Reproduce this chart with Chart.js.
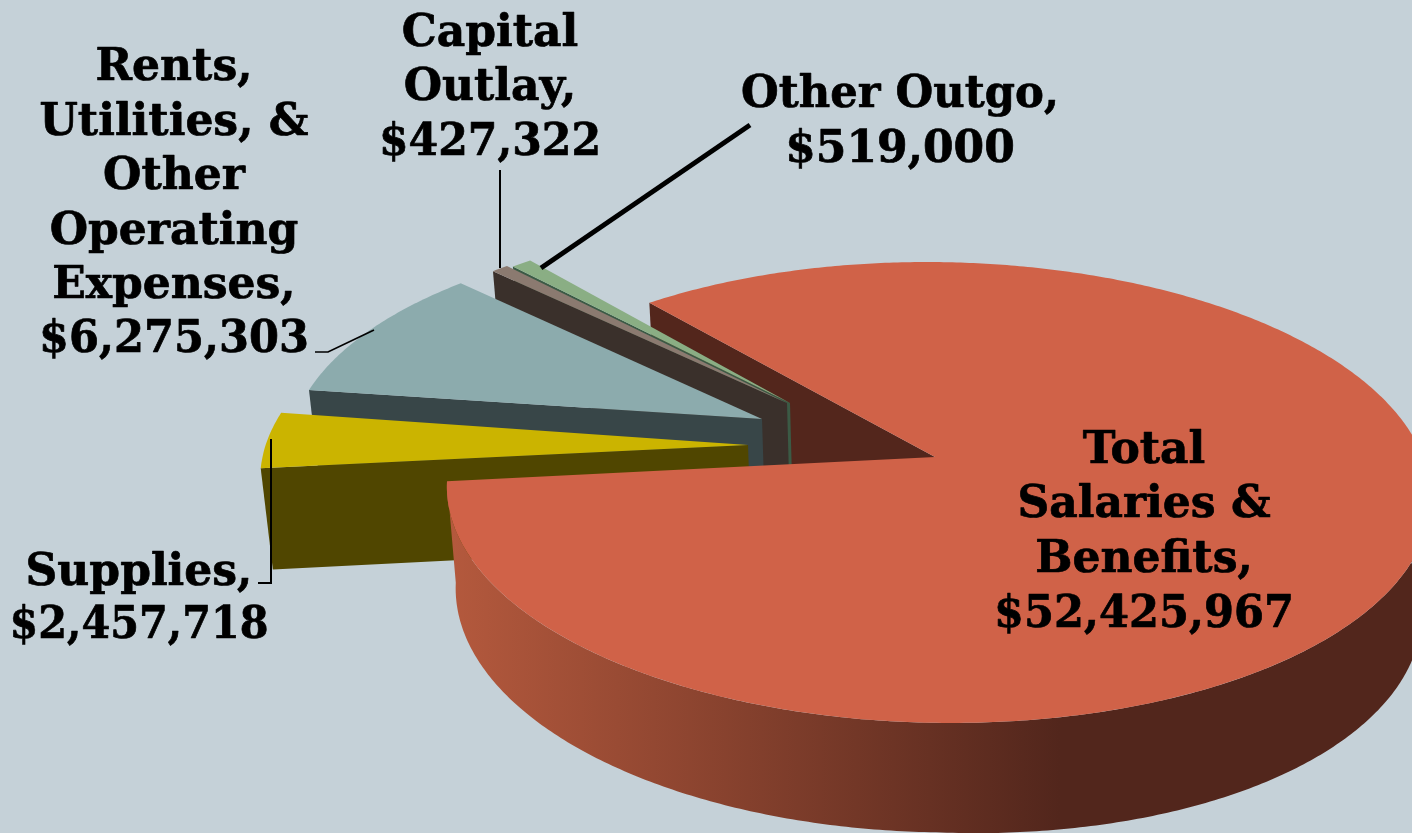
<!DOCTYPE html>
<html>
<head>
<meta charset="utf-8">
<style>html,body{margin:0;padding:0;background:#C5D1D8;overflow:hidden}canvas{display:block}</style>
<script src="https://cdn.jsdelivr.net/npm/chart.js@4/dist/chart.umd.min.js"></script>
</head>
<body>
<canvas id="c" width="1412" height="833"></canvas>
<script>
const categories = ["Total Salaries & Benefits","Supplies","Rents, Utilities, & Other Operating Expenses","Capital Outlay","Other Outgo"];
const values = [52425967,2457718,6275303,427322,519000];
const topColors = ["#D06248","#CBB400","#8CABAD","#8B7A70","#8AAE84"];
const wallColors = ["#53261C","#504600","#384648","#3A302B","#3B5A45"];
const labelLines = [["Total","Salaries &","Benefits,"],["Supplies,"],["Rents,","Utilities, &","Other","Operating","Expenses,"],["Capital","Outlay,"],["Other Outgo,"]];

// layout of the perspective drawing
const apexes = [[935,457],[748,445],[762,419],[787,403],[790,403]];
const rimCenters = [[937,457],[752,444],[761,420],[787,405],[790,404]];
const rimScale = [1,1,.96,.94,.93];
const rimSkew = [12,0,0,0,0];
const K=.154, RX=486, RY=225;
const labelPos = [[1144,[463,517,572,627],300],[139,[585,638],259],[174,[80,135,189,244,298,352],270],[490,[46,100,155],222],[900,[107,162],318]];
const FONT='bold 44px "DejaVu Serif"';

const fmt=v=>"$"+v.toLocaleString("en-US");
const depthOf=p=>101+(p.y-467)*.033+Math.max(0,p.x-935)*.025;
const bot=p=>({x:935+(p.x-935)*.982,y:p.y+depthOf(p)});
const rim=(i,a)=>{const s=Math.sin(a),d=1-K*s;return{x:rimCenters[i][0]+(rimScale[i]*RX*Math.cos(a)+rimSkew[i]*s)/d,y:rimCenters[i][1]+rimScale[i]*RY*s/d}};
const apex=i=>({x:apexes[i][0],y:apexes[i][1]});
function poly(ctx,pts,fill){ctx.beginPath();pts.forEach((p,j)=>j?ctx.lineTo(p.x,p.y):ctx.moveTo(p.x,p.y));ctx.closePath();ctx.fillStyle=fill;ctx.fill()}
function arcPts(i,a0,a1){const n=Math.max(2,Math.ceil((a1-a0)/.01)),o=[];for(let j=0;j<=n;j++)o.push(rim(i,a0+(a1-a0)*j/n));return o}

const pie3d={id:'pie3d',
 beforeDatasetsDraw(chart){
  const ctx=chart.ctx,els=chart.getDatasetMeta(0).data;
  ctx.save();
  const wall=i=>{const p=rim(i,els[i].startAngle),a=apex(i);poly(ctx,[a,p,bot(p),bot(a)],wallColors[i])};
  const top=i=>poly(ctx,[apex(i),...arcPts(i,els[i].startAngle,els[i].endAngle)],topColors[i]);
  wall(0);
  for(const i of [4,3,2,1]){wall(i);top(i)}
  // front wall of the large slice
  const pts=arcPts(0,-0.1,els[0].endAngle);
  const g=ctx.createLinearGradient(450,0,1060,0);
  g.addColorStop(0,"#B4593D");g.addColorStop(1,"#52261C");
  poly(ctx,[...pts,...pts.slice().reverse().map(bot)],g);
  top(0);
  // labels
  ctx.fillStyle="#000";ctx.strokeStyle="#000";ctx.lineWidth=.7;ctx.lineJoin="round";ctx.textAlign="center";ctx.textBaseline="alphabetic";ctx.font=FONT;
  labelPos.forEach((l,i)=>{
    const lines=[...labelLines[i],fmt(values[i])];
    lines.forEach((t,j)=>{ctx.fillText(t,l[0],l[1][j],l[2]);ctx.strokeText(t,l[0],l[1][j],l[2])});
  });
  // leader lines
  ctx.lineCap="butt";ctx.lineJoin="miter";
  const leader=(w,p)=>{ctx.lineWidth=w;ctx.beginPath();p.forEach((q,j)=>j?ctx.lineTo(q[0],q[1]):ctx.moveTo(q[0],q[1]));ctx.stroke()};
  leader(5,[[750,125],[541,268]]);
  leader(2,[[500,170],[500,268]]);
  leader(1.7,[[315,352],[328,352],[374,330]]);
  leader(2,[[258,583],[271,583],[271,439]]);
  ctx.restore();
  return false;
 }};

new Chart(document.getElementById('c'),{
 type:'pie',
 data:{labels:categories,datasets:[{data:values,backgroundColor:topColors}]},
 options:{responsive:false,animation:false,rotation:-40,
  plugins:{legend:{display:false},tooltip:{enabled:false}}},
 plugins:[pie3d]
});
</script>
</body>
</html>
